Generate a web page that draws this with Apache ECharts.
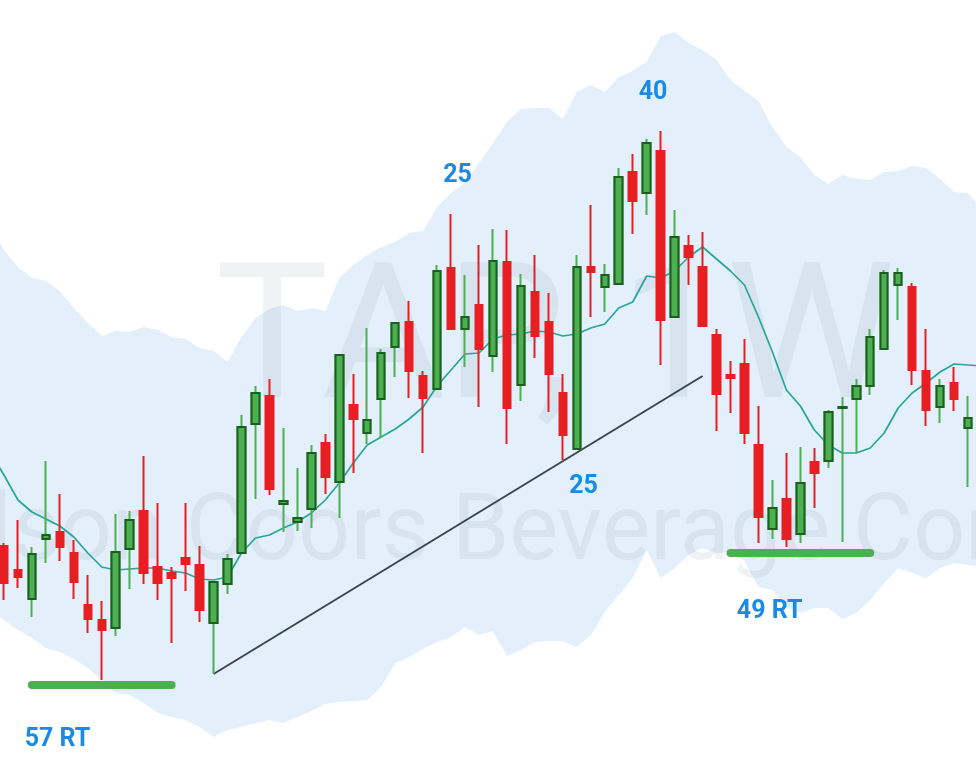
<!DOCTYPE html>
<html><head><meta charset="utf-8">
<script src="https://cdn.jsdelivr.net/npm/echarts@6/dist/echarts.min.js"></script>
<style>html,body{margin:0;padding:0;background:#fff;overflow:hidden;width:976px;height:770px}
#chart{position:absolute;left:-17px;top:0;width:1006px;height:770px}</style>
</head><body><div id="chart"></div>
<script>
// Weekly candles (70 visible weeks)
const opens = [45.4,43.0,40.1,46.1,46.8,44.7,39.5,38.0,37.2,45.1,
  48.9,43.3,42.7,44.2,43.5,37.7,41.6,44.7,57.6,60.4,
  49.6,47.8,49.1,55.7,51.8,59.5,56.7,60.1,65.3,67.8,
  62.4,61.1,73.2,67.1,69.5,64.4,73.8,61.5,70.8,67.8,
  60.7,55.1,73.3,71.3,71.6,82.8,80.7,84.9,68.3,75.4,
  73.3,66.5,62.5,63.6,55.5,47.1,50.1,46.6,53.8,53.9,
  59.2,60.1,61.4,65.1,71.5,71.3,62.9,59.3,61.7,57.2];
const closes = [41.7,42.3,44.6,46.5,45.3,41.8,38.1,37.0,44.8,48.0,
  42.7,41.7,42.2,43.6,39.0,41.8,44.1,57.3,60.7,51.1,
  49.9,48.2,54.7,52.3,64.5,58.1,58.0,64.7,67.7,62.9,
  60.2,72.9,67.1,68.3,65.1,73.9,59.2,71.4,66.4,62.6,
  56.5,73.3,72.8,72.5,82.3,79.9,85.7,68.0,76.3,74.3,
  67.4,60.6,62.2,56.7,48.3,49.2,46.1,51.7,52.7,58.8,
  59.3,61.4,66.3,72.7,72.7,63.0,59.0,61.4,60.1,58.2];
const lows = [40.0,41.2,38.3,43.7,43.9,40.1,36.7,32.0,36.4,41.1,
  41.6,40.0,35.7,40.9,37.8,32.6,40.6,44.7,50.1,50.5,
  46.8,46.9,47.2,50.6,48.2,52.7,55.6,56.2,62.3,60.2,
  54.7,61.1,67.0,63.3,59.3,62.8,55.6,59.9,64.2,58.8,
  54.0,55.1,68.3,68.8,71.6,76.6,78.5,63.5,68.3,71.5,
  67.4,56.9,58.7,55.6,45.7,46.1,45.3,45.7,49.2,53.2,
  45.8,54.7,60.5,65.1,68.0,61.5,57.4,57.7,58.9,51.3];
const highs = [45.7,48.0,45.3,53.9,50.6,46.0,42.5,39.9,48.6,48.9,
  54.4,49.7,43.3,49.7,45.4,41.8,44.6,58.5,61.4,62.1,
  57.2,53.2,55.5,56.6,64.6,62.6,67.2,65.1,67.7,69.9,
  62.9,73.5,78.6,72.5,75.5,77.1,77.0,72.6,74.5,70.7,
  62.6,74.5,79.5,73.6,83.2,84.6,86.1,86.9,79.0,76.5,
  76.8,67.1,63.9,66.1,59.4,52.0,54.7,55.3,55.2,59.0,
  60.3,62.1,67.1,73.0,73.2,71.7,67.1,62.1,63.3,60.4];
// Indicator values (one extra week on each side of the visible range)
const maValues = [54.8,
  52.5,50.0,48.8,48.1,47.4,46.3,44.7,43.3,43.0,43.1,
  43.2,43.2,42.9,42.7,42.1,42.0,42.3,44.7,46.2,46.5,
  47.2,47.8,48.7,50.0,51.7,53.7,55.5,56.3,57.1,58.1,
  59.3,61.4,63.0,64.6,64.7,66.1,66.5,66.6,66.9,66.8,
  66.4,66.6,67.2,67.6,69.2,69.8,72.4,72.2,72.9,74.3,
  75.3,74.1,72.9,71.5,68.3,64.8,61.0,59.4,57.0,55.5,
  54.7,54.7,55.2,56.7,59.2,60.7,61.7,62.8,63.6,63.5,
  63.4];
const bandUpper = [77.5,
  75.0,73.3,72.2,71.9,70.9,69.2,67.7,66.4,66.9,66.8,
  67.3,67.0,66.3,66.1,65.2,64.9,63.8,66.3,68.2,69.1,
  69.5,68.9,69.2,68.9,72.2,73.5,74.5,75.3,75.8,76.7,
  76.9,79.3,80.7,81.7,83.7,85.7,87.8,89.1,89.2,89.2,
  88.1,90.8,91.5,90.8,92.3,92.9,93.8,96.4,96.8,95.7,
  95.0,94.0,92.0,90.9,89.9,87.3,85.3,84.3,82.5,81.6,
  82.5,82.1,82.0,82.8,82.9,83.4,83.2,82.1,80.8,80.7,
  79.0];
const bandLower = [39.2,
  38.0,37.0,36.2,35.2,34.8,34.1,33.2,32.0,30.7,30.5,
  29.7,28.7,28.3,28.0,27.3,26.3,27.0,27.3,27.7,28.0,
  27.7,28.3,28.9,29.6,29.8,29.9,30.0,31.3,33.7,34.3,
  35.1,35.8,36.3,37.3,36.5,36.9,34.4,35.0,35.8,35.9,
  35.9,35.3,36.5,38.8,40.5,42.2,45.0,42.2,43.2,44.5,
  45.2,44.7,44.8,43.9,41.3,41.0,39.3,38.7,39.2,39.2,
  38.1,38.7,40.0,41.7,43.2,42.7,42.2,43.2,43.7,43.5,
  43.3];
// Drawings (week index, price)
const trendLine = [[16, 32.6], [51, 62.4]];
const supportFrom = [3, 53];
const supportTo = [13, 63];
const supportPrice = [31.5, 44.7];
const noteTexts = ['25', '40', '25', '57 RT', '49 RT'];
const noteWeeks = [33.46, 47.46, 42.48, 4.83, 55.8];
const notePrices = [82.45, 90.75, 51.3, 26.0, 38.85];

const N = maValues.length; // 72
const categories = Array.from({length: N}, (_, i) => 'W' + i);
const candleData = ['-'];
const bodyData = ['-'];
for (let i = 0; i < opens.length; i++) {
  candleData.push([opens[i], closes[i], lows[i], highs[i]]);
  bodyData.push(closes[i] > opens[i] ? [opens[i], closes[i], opens[i], closes[i]] : '-');
}
candleData.push('-'); bodyData.push('-');
const bandDiff = bandUpper.map((u, i) => +(u - bandLower[i]).toFixed(2));

const RED = '#E81F22', GREEN = '#4CAF50', DARK = '#1B5E20';
const series = [
  {type: 'line', data: bandLower, stack: 'band', symbol: 'none', lineStyle: {width: 0, opacity: 0}, z: 1, silent: true},
  {type: 'line', data: bandDiff, stack: 'band', symbol: 'none', lineStyle: {width: 0, opacity: 0},
    areaStyle: {color: '#E3F0FB', opacity: 1}, z: 1, silent: true},
  {type: 'line', data: maValues, symbol: 'none', lineStyle: {color: '#26A69A', width: 1.7}, z: 3, silent: true},
  {type: 'line', xAxisIndex: 1, data: trendLine, symbol: 'none', lineStyle: {color: '#3F424C', width: 2}, z: 3, silent: true},
  {type: 'candlestick', data: candleData, barWidth: 8, z: 4,
    itemStyle: {color: GREEN, color0: RED, borderColor: GREEN, borderColor0: RED, borderWidth: 2}},
  {type: 'candlestick', data: bodyData, barWidth: 8, z: 5,
    itemStyle: {color: GREEN, color0: RED, borderColor: DARK, borderColor0: RED, borderWidth: 2}}
];
supportPrice.forEach((p, k) => {
  series.push({type: 'line', xAxisIndex: 1, data: [[supportFrom[k], p], [supportTo[k], p]], symbol: 'none',
    lineStyle: {color: GREEN, width: 8, cap: 'round'}, z: 6, silent: true});
});
series.push({type: 'scatter', xAxisIndex: 1, symbolSize: 1, itemStyle: {color: '#ffffff', opacity: 0}, z: 7, silent: true,
  data: noteTexts.map((t, i) => ({value: [noteWeeks[i], notePrices[i]], name: t})),
  label: {show: true, position: 'inside', formatter: p => p.name, color: '#1A8AE6', opacity: 1,
    textBorderWidth: 0, textBorderColor: 'transparent',
    fontFamily: 'Roboto', fontWeight: 'bold', fontSize: 25}});

const chart = echarts.init(document.getElementById('chart'), null, {renderer: 'canvas'});
chart.setOption({
  animation: false,
  backgroundColor: '#ffffff',
  grid: {left: 0, right: 0, top: 0, bottom: 0, containLabel: false},
  xAxis: [
    {type: 'category', data: categories, boundaryGap: true, show: false},
    {type: 'value', min: -0.5, max: N - 0.5, show: false}
  ],
  yAxis: {type: 'value', min: 23, max: 100, show: false, splitLine: {show: false}},
  graphic: [
    {type: 'text', x: 572, y: 349, z: 2, silent: true,
      style: {text: 'TAP, 1W', font: '190px Roboto', fill: 'rgba(120,123,134,0.1)', textAlign: 'center', textVerticalAlign: 'middle'}},
    {type: 'text', x: -126, y: 536, z: 2, silent: true,
      style: {text: 'Molson Coors Beverage Company', font: '92px Roboto', fill: 'rgba(120,123,134,0.1)', textAlign: 'left', textVerticalAlign: 'middle'}}
  ],
  series: series
});
</script>
</body></html>
